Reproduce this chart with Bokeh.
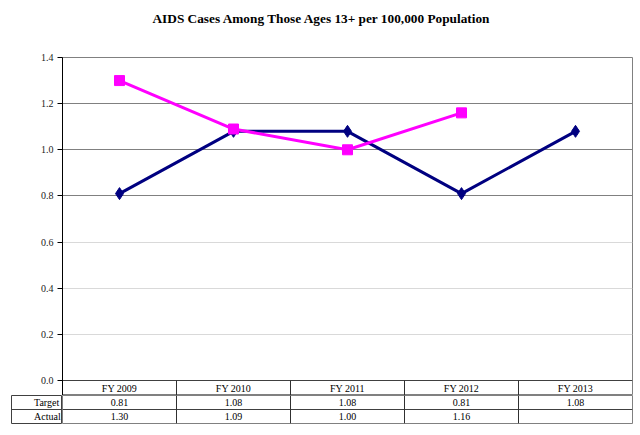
from bokeh.plotting import figure
from bokeh.layouts import column, row
from bokeh.models import (Range1d, FactorRange, LinearAxis, FixedTicker, Grid,
                          Legend, LegendItem, Title, CustomJSTickFormatter, ColumnDataSource)
from bokeh.transform import dodge
from bokeh.core.properties import value
from bokeh.embed import file_html
from bokeh.resources import INLINE

# ---- data ----
years = ["FY 2009", "FY 2010", "FY 2011", "FY 2012", "FY 2013"]
target = [0.81, 1.08, 1.08, 0.81, 1.08]
actual = [1.30, 1.09, 1.00, 1.16, None]
y_ticks = [0.0, 0.2, 0.4, 0.6, 0.8, 1.0, 1.2, 1.4]
series_names = ["Target", "Actual"]
title_text = "AIDS Cases Among Those Ages 13+ per 100,000 Population"

FONT = "Liberation Serif"
NAVY = "#000080"
MAGENTA = "#FF00FF"

# ---- layout (pixels) ----
W = 633
LEFT = 62
TOP = 57
chart_h = 323            # 0 .. 1.4
head_h = 15              # header row of the table
rows_h = 28              # two value rows
bottom_pad = 4
y_max = 1.4
y_min = -head_h * y_max / chart_h

x_range = FactorRange(*years, range_padding=0)


def plain(fig):
    fig.xgrid.visible = False
    fig.ygrid.visible = False
    return fig


# ================= top figure: chart + header row =================
p = plain(figure(width=W, height=TOP + chart_h + head_h, output_backend="svg",
                 toolbar_location=None, x_range=x_range, y_range=Range1d(y_min, y_max),
                 x_axis_location=None, y_axis_location=None,
                 min_border_left=LEFT, min_border_right=1,
                 min_border_top=TOP, min_border_bottom=0,
                 background_fill_color="white", border_fill_color="white"))
p.extra_y_ranges = {"tbl": Range1d(-1, -1 + (chart_h + head_h) / head_h)}
p.outline_line_color = "#808080"

# spacer (empty title, closest to the frame) then the real title above it
p.add_layout(Title(text=" ", text_font_size="13px"), "above")
p.add_layout(Title(text=title_text, align="left", offset=90,
                   text_font=FONT, text_font_size="13.3px", text_font_style="bold",
                   text_color="black"), "above")

p.add_layout(Grid(dimension=1, ticker=FixedTicker(ticks=[0.2, 0.4, 0.6]),
                  grid_line_color="#d9d9d9", grid_line_width=1))
p.add_layout(Grid(dimension=1, ticker=FixedTicker(ticks=[0.8, 1.0, 1.2]),
                  grid_line_color="#808080", grid_line_width=1))

ax = LinearAxis(ticker=FixedTicker(ticks=y_ticks),
                formatter=CustomJSTickFormatter(code="return tick.toFixed(1);"))
ax.axis_line_color = "black"
ax.major_tick_line_color = "black"
ax.major_tick_out = 5
ax.major_tick_in = 0
ax.minor_tick_line_color = None
ax.major_label_text_font = FONT
ax.major_label_text_font_size = "10px"
ax.major_label_text_color = "#222222"
ax.major_label_standoff = 4
p.add_layout(ax, "left")

# header row
p.hspan(y=[0], y_range_name="tbl", line_color="#404040", line_width=1)
p.segment(x0=dodge("x", 0.5, range=x_range), x1=dodge("x", 0.5, range=x_range),
          y0=0, y1=-1, y_range_name="tbl", source=ColumnDataSource(dict(x=years[:-1])),
          line_color="#303030", line_width=1)
p.text(x=years, y=[-0.5] * len(years), text=years, y_range_name="tbl",
       text_align="center", text_baseline="middle",
       text_font=value(FONT), text_font_size="10px", text_color="black")

# series
t_line = p.line(years, target, line_color=NAVY, line_width=3)
t_mark = p.scatter(years, target, marker="diamond", size=12,
                   fill_color=NAVY, line_color=NAVY)
act_x = [y for y, v in zip(years, actual) if v is not None]
act_y = [v for v in actual if v is not None]
a_line = p.line(act_x, act_y, line_color=MAGENTA, line_width=3)
a_mark = p.scatter(act_x, act_y, marker="square", size=10,
                   fill_color=MAGENTA, line_color=MAGENTA)

# ================= bottom-left: legend cells =================
k = plain(figure(width=LEFT, height=rows_h + bottom_pad, output_backend="svg",
                 toolbar_location=None, x_range=Range1d(0, 1), y_range=Range1d(-2, 0),
                 x_axis_location=None, y_axis_location=None,
                 min_border_left=11, min_border_right=0,
                 min_border_top=0, min_border_bottom=bottom_pad,
                 background_fill_color="white", border_fill_color="white"))
k.outline_line_color = "#404040"
k.hspan(y=[-1], line_color="#404040", line_width=1)
kt_line = k.line([], [], line_color=NAVY, line_width=3)
kt_mark = k.scatter([], [], marker="diamond", size=9, fill_color=NAVY, line_color=NAVY)
ka_line = k.line([], [], line_color=MAGENTA, line_width=3)
ka_mark = k.scatter([], [], marker="square", size=8, fill_color=MAGENTA, line_color=MAGENTA)
lg = Legend(items=[LegendItem(label=series_names[0], renderers=[kt_line, kt_mark]),
                   LegendItem(label=series_names[1], renderers=[ka_line, ka_mark])],
            location="top_left", orientation="vertical",
            padding=0, margin=0, spacing=0,
            glyph_width=23, glyph_height=14, label_standoff=0,
            label_width=20, label_height=14,
            label_text_font=FONT, label_text_font_size="10px",
            label_text_color="black",
            border_line_color=None, background_fill_alpha=0)
k.add_layout(lg, "center")

# ================= bottom-right: value rows =================
q = plain(figure(width=W - LEFT, height=rows_h + bottom_pad, output_backend="svg",
                 toolbar_location=None, x_range=x_range, y_range=Range1d(-2, 0),
                 x_axis_location=None, y_axis_location=None,
                 min_border_left=0, min_border_right=1,
                 min_border_top=0, min_border_bottom=bottom_pad,
                 background_fill_color="white", border_fill_color="white"))
q.outline_line_color = "#808080"
q.hspan(y=[-1], line_color="#404040", line_width=1)
q.segment(x0=dodge("x", 0.5, range=x_range), x1=dodge("x", 0.5, range=x_range),
          y0=0, y1=-2, source=ColumnDataSource(dict(x=years[:-1])),
          line_color="#303030", line_width=1)
q.text(x=years, y=[-0.5] * len(years), text=[f"{v:.2f}" for v in target],
       text_align="center", text_baseline="middle",
       text_font=value(FONT), text_font_size="10px", text_color="black")
q.text(x=act_x, y=[-1.5] * len(act_x), text=[f"{v:.2f}" for v in act_y],
       text_align="center", text_baseline="middle",
       text_font=value(FONT), text_font_size="10px", text_color="black")

layout = column(p, row(k, q, spacing=0), spacing=0)
open("out.html", "w").write(file_html(layout, INLINE))
